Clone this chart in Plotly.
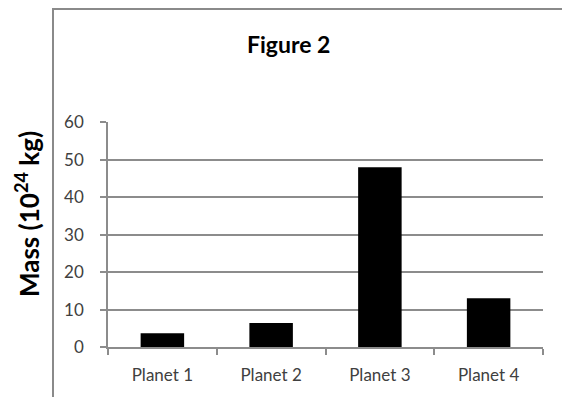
import plotly.graph_objects as go

# Planet masses in units of 10^24 kg
planets = ["Planet 1", "Planet 2", "Planet 3", "Planet 4"]
mass = [3.7, 6.4, 48.0, 13.0]
y_ticks = [0, 10, 20, 30, 40, 50, 60]

W, H = 562, 397
L, R, T, B = 108, 19, 122, 50
pw, ph = W - L - R, H - T - B


def px_x(p):
    return (p - L) / pw


def px_y(p):
    return (H - B - p) / ph


grid = "#8c8c8c"
fig = go.Figure(
    go.Bar(x=planets, y=mass, marker=dict(color="black", line=dict(width=0)), width=0.4)
)

fig.update_layout(
    width=W, height=H,
    margin=dict(l=L, r=R, t=T, b=B),
    paper_bgcolor="white", plot_bgcolor="white",
    showlegend=False,
    font=dict(family="Lato", color="#404040"),
    shapes=[
        # chart-area frame
        dict(type="rect", xref="paper", yref="paper",
             x0=px_x(53), x1=px_x(600), y0=px_y(460), y1=px_y(9),
             line=dict(color="#8a8a8a", width=2), layer="below"),
    ],
    annotations=[
        dict(text="<b>Figure 2</b>", xref="paper", yref="paper",
             x=px_x(288), y=px_y(44), showarrow=False,
             font=dict(family="Lato", size=23, color="black"),
             xanchor="center", yanchor="middle"),
        dict(text="<b>Mass (10<sup>24</sup> kg)</b>", xref="paper", yref="paper",
             x=px_x(27), y=px_y(214), showarrow=False, textangle=-90,
             font=dict(family="Lato", size=26, color="black"),
             xanchor="center", yanchor="middle"),
    ],
)

fig.update_xaxes(
    type="category", tickson="boundaries", ticks="outside", ticklen=6,
    tickcolor=grid, tickwidth=1.5, showgrid=False,
    showline=True, linecolor=grid, linewidth=1.5,
    ticklabelstandoff=12,
    tickfont=dict(family="Lato", size=17, color="#404040"),
)
fig.update_yaxes(
    range=[0, 60.1], tickvals=y_ticks, ticks="outside", ticklen=6,
    tickcolor=grid, tickwidth=1.5,
    showgrid=True, gridcolor=grid, gridwidth=1.5,
    showline=True, linecolor=grid, linewidth=1.5,
    zeroline=False,
    ticklabelstandoff=13,
    tickfont=dict(family="Lato", size=17, color="#404040"),
)

fig.write_html("out.html")
